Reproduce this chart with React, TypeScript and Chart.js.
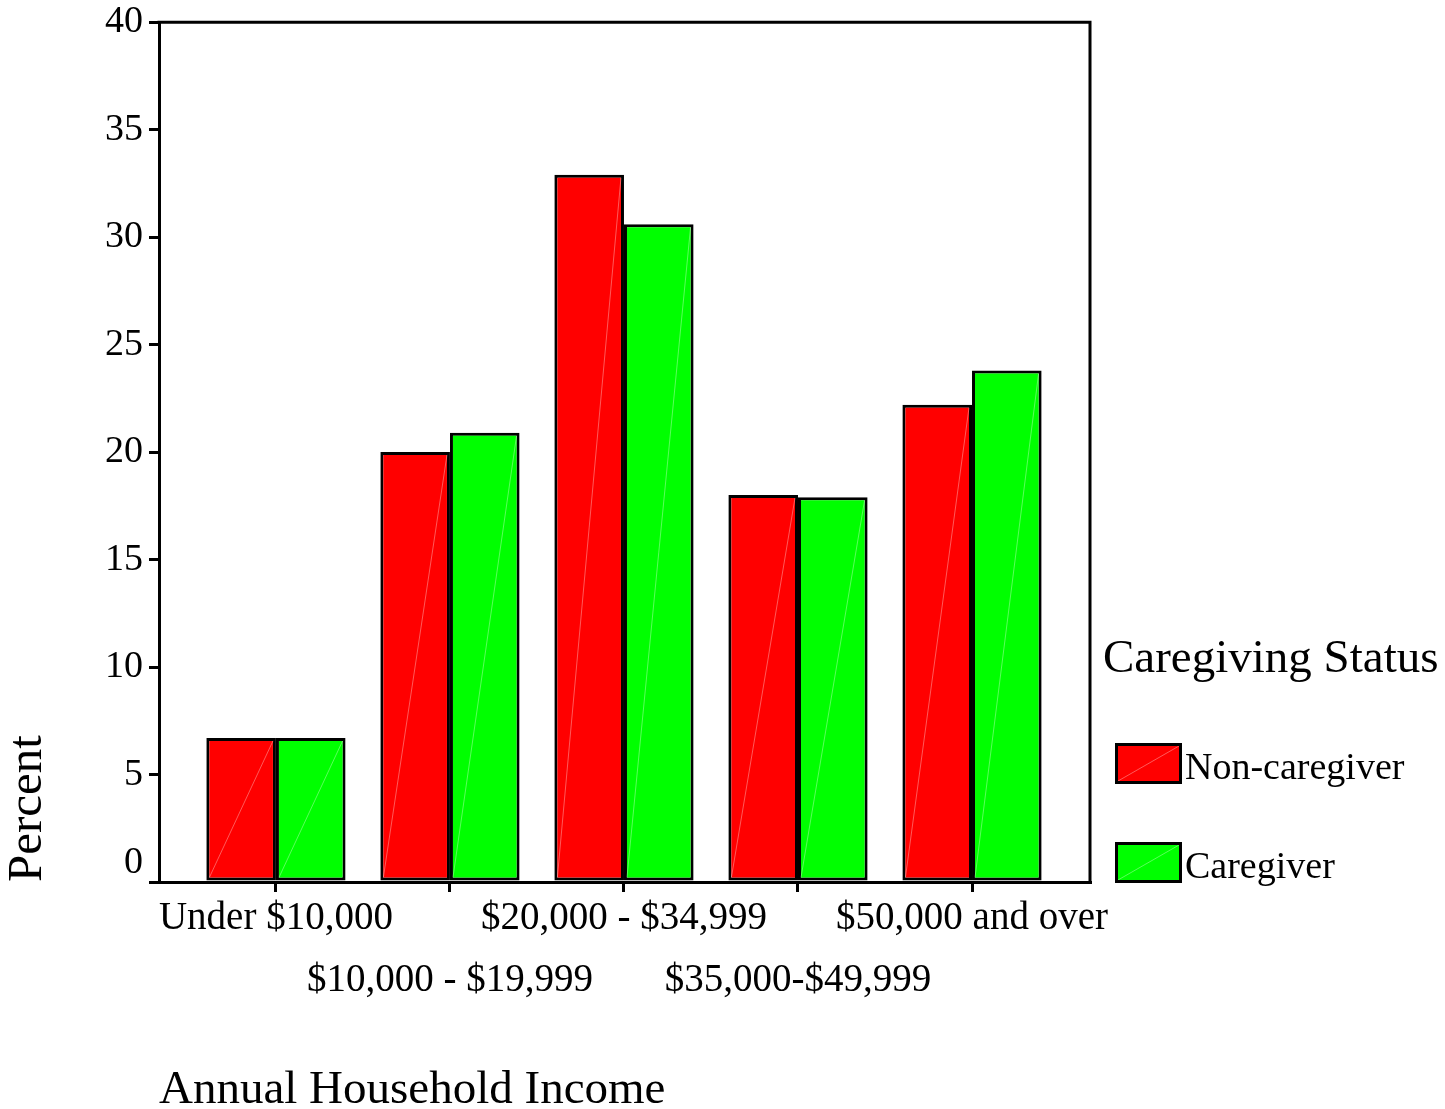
import React, { useEffect, useRef } from 'react';
import { Chart, registerables } from 'chart.js';

Chart.register(...registerables);

const categories = ['Under $10,000', '$10,000 - $19,999', '$20,000 - $34,999', '$35,000-$49,999', '$50,000 and over'];
const nonCaregiver = [6.7, 20.0, 32.9, 18.0, 22.2];
const caregiver = [6.7, 20.9, 30.6, 17.9, 23.8];
const seriesNames = ['Non-caregiver', 'Caregiver'];
const seriesColors = ['#ff0000', '#00ff00'];
const yTickValues = [0, 5, 10, 15, 20, 25, 30, 35, 40];
const legendTitle = 'Caregiving Status';
const xTitle = 'Annual Household Income';
const yTitle = 'Percent';

const FONT = "'Liberation Serif', 'Times New Roman', Times, serif";

const decorPlugin = {
  id: 'decor',
  afterDatasetsDraw(chart: any) {
    const ctx = chart.ctx;
    chart.data.datasets.forEach((ds: any, di: number) => {
      const meta = chart.getDatasetMeta(di);
      meta.data.forEach((bar: any) => {
        const { x, y, base, width } = bar.getProps(['x', 'y', 'base', 'width'], true);
        ctx.save();
        ctx.strokeStyle = 'rgba(255,255,255,0.35)';
        ctx.lineWidth = 1;
        ctx.beginPath();
        ctx.moveTo(x - width / 2 + 3, base - 3);
        ctx.lineTo(x + width / 2 - 3, y + 3);
        ctx.stroke();
        ctx.restore();
      });
    });
  },
  afterDraw(chart: any) {
    const { ctx, chartArea } = chart;
    ctx.save();
    // frame top and right
    ctx.strokeStyle = '#000';
    ctx.lineWidth = 3;
    ctx.beginPath();
    ctx.moveTo(chartArea.left - 1.5, chartArea.top);
    ctx.lineTo(chartArea.right, chartArea.top);
    ctx.lineTo(chartArea.right, chartArea.bottom);
    ctx.stroke();

    // zero label, lifted above the baseline tick
    const ys = chart.scales.y;
    ctx.fillStyle = '#000';
    ctx.font = `38px ${FONT}`;
    ctx.textAlign = 'right';
    ctx.textBaseline = 'middle';
    ctx.fillText('0', ys.right - 10 - 6, ys.getPixelForValue(0) - 19);

    // legend
    ctx.textAlign = 'left';
    ctx.textBaseline = 'alphabetic';
    ctx.font = `47px ${FONT}`;
    ctx.fillText(legendTitle, 1103, 672);
    chart.data.datasets.forEach((ds: any, i: number) => {
      const bx = 1115;
      const by = 743 + i * 99;
      const bw = 67;
      const bh = 41;
      ctx.fillStyle = ds.backgroundColor;
      ctx.fillRect(bx, by, bw, bh);
      ctx.strokeStyle = 'rgba(255,255,255,0.35)';
      ctx.lineWidth = 1;
      ctx.beginPath();
      ctx.moveTo(bx + 3, by + bh - 3);
      ctx.lineTo(bx + bw - 3, by + 3);
      ctx.stroke();
      ctx.strokeStyle = '#000';
      ctx.lineWidth = 3;
      ctx.strokeRect(bx + 1.5, by + 1.5, bw - 3, bh - 3);
      ctx.fillStyle = '#000';
      ctx.font = `38px ${FONT}`;
      ctx.fillText(ds.label, 1185, by + 36);
    });
    ctx.restore();
  },
};

export default function App() {
  const canvasRef = useRef<HTMLCanvasElement | null>(null);

  useEffect(() => {
    const canvas = canvasRef.current;
    if (!canvas) return;
    const chart = new Chart(canvas, {
      type: 'bar',
      data: {
        datasets: [
          {
            label: seriesNames[0],
            data: nonCaregiver.map((v, i) => ({ x: i, y: v })),
            backgroundColor: seriesColors[0],
            borderColor: '#000',
            borderWidth: 3,
            borderSkipped: false,
          },
          {
            label: seriesNames[1],
            data: caregiver.map((v, i) => ({ x: i, y: v })),
            backgroundColor: seriesColors[1],
            borderColor: '#000',
            borderWidth: 3,
            borderSkipped: false,
          },
        ],
      },
      options: {
        responsive: false,
        animation: false,
        devicePixelRatio: 1,
        layout: { padding: { top: 22, right: 355, bottom: 0, left: 0 } },
        datasets: { bar: { categoryPercentage: 0.8, barPercentage: 1.0 } } as any,
        plugins: {
          legend: { display: false },
          tooltip: { enabled: false },
        },
        scales: {
          x: {
            type: 'linear',
            offset: false,
            min: -0.672,
            max: 4.678,
            afterBuildTicks: (scale: any) => {
              scale.ticks = categories.map((_, i) => ({ value: i }));
            },
            afterFit: (scale: any) => {
              scale.height = 227;
            },
            ticks: {
              autoSkip: false,
              maxRotation: 0,
              minRotation: 0,
              padding: -4,
              color: '#000',
              font: { family: FONT, size: 39, lineHeight: '62px' } as any,
              callback: (value: any) => {
                const i = Math.round(Number(value));
                const lbl = categories[i] ?? '';
                return i % 2 === 0 ? lbl : ['', lbl];
              },
            },
            grid: {
              offset: false,
              drawOnChartArea: false,
              drawTicks: true,
              tickLength: 10,
              color: '#000',
              lineWidth: 3,
            },
            border: { display: true, color: '#000', width: 3 },
            title: {
              display: true,
              text: xTitle,
              align: 'start',
              color: '#000',
              font: { family: FONT, size: 47, lineHeight: 0.8 },
              padding: { top: 0, bottom: 0 },
            },
          },
          y: {
            type: 'linear',
            min: 0,
            max: 40,
            afterBuildTicks: (scale: any) => {
              scale.ticks = yTickValues.map((v) => ({ value: v }));
            },
            afterFit: (scale: any) => {
              scale.width = 159;
            },
            ticks: {
              padding: 6,
              color: '#000',
              font: { family: FONT, size: 38, lineHeight: 0.85 },
              callback: (value: any) => (Number(value) === 0 ? '' : String(value)),
            },
            grid: {
              drawOnChartArea: false,
              drawTicks: true,
              tickLength: 10,
              color: '#000',
              lineWidth: 3,
            },
            border: { display: true, color: '#000', width: 3 },
            title: {
              display: true,
              text: yTitle,
              align: 'start',
              color: '#000',
              font: { family: FONT, size: 49, lineHeight: 1 },
              padding: { top: 4, bottom: 0 },
            },
          },
        },
      },
      plugins: [decorPlugin],
    });
    return () => chart.destroy();
  }, []);

  return (
    <canvas
      ref={canvasRef}
      width={1445}
      height={1109}
      style={{ position: 'absolute', left: 0, top: 0, width: 1445, height: 1109, background: '#fff' }}
    />
  );
}
